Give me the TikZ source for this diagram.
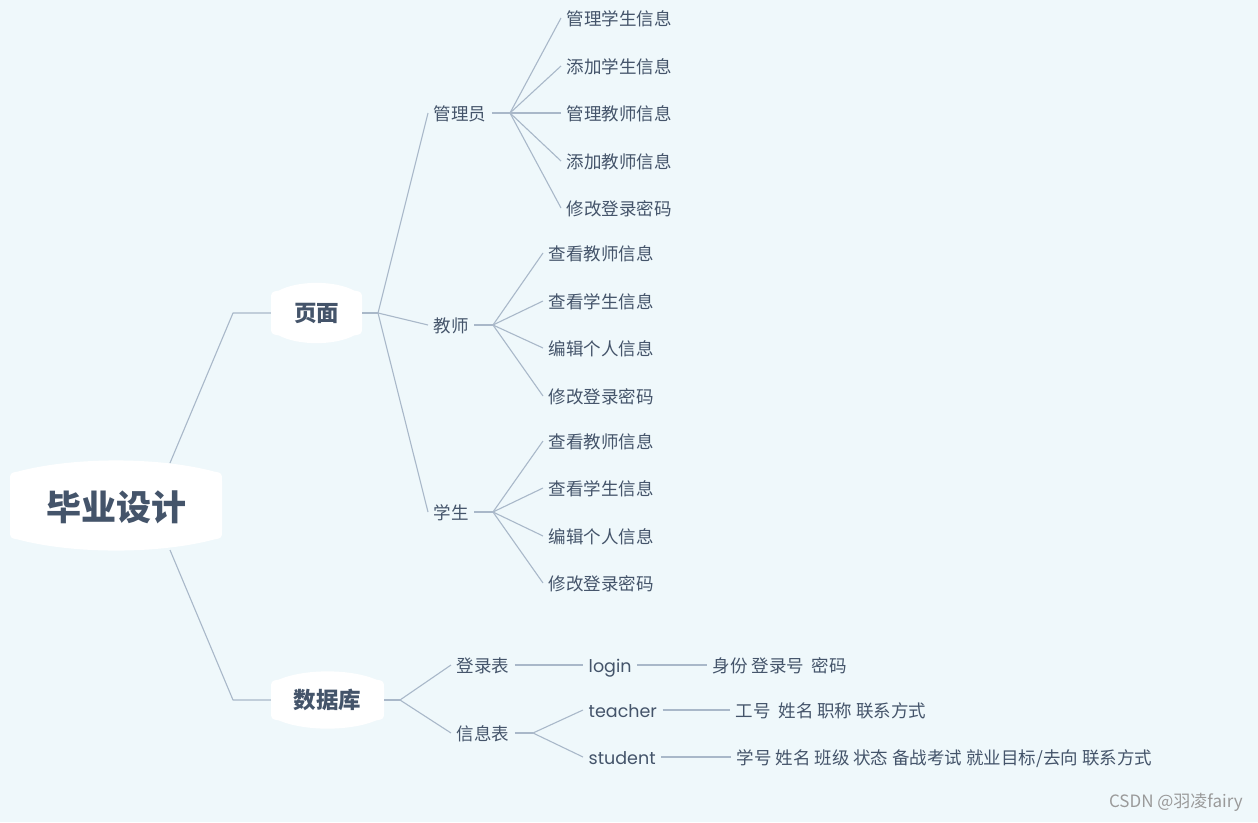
\documentclass[tikz,border=0pt]{standalone}
\usepackage{fontspec}
\setmainfont{Noto Sans CJK SC}
\newfontfamily\latf{Poppins}
\definecolor{bgc}{HTML}{EFF8FB}
\definecolor{txt}{HTML}{44546A}
\definecolor{lnc}{HTML}{A9B8C9}
\definecolor{wmc}{HTML}{9A9A9A}
\newcommand\mmbarrel[5]{%
\fill[white] ({#1},{#2+8}) .. controls ({#1},{#2}) .. ({#1+8},{#2-1.5})
 .. controls ({#1+0.3*(#3-#1)},{#2-#5*1.3}) and ({#3-0.3*(#3-#1)},{#2-#5*1.3}) .. ({#3-8},{#2-1.5})
 .. controls ({#3},{#2}) .. ({#3},{#2+8}) -- ({#3},{#4-8})
 .. controls ({#3},{#4}) .. ({#3-8},{#4+1.5})
 .. controls ({#3-0.3*(#3-#1)},{#4+#5*1.3}) and ({#1+0.3*(#3-#1)},{#4+#5*1.3}) .. ({#1+8},{#4+1.5})
 .. controls ({#1},{#4}) .. ({#1},{#4-8}) -- cycle;}
\tikzset{
 conn/.style={draw=lnc, line width=1.1pt, line join=round},
 lv/.style={anchor=west, inner xsep=5.5pt, inner ysep=0pt, text=txt,
   font=\fontsize{17.5}{20}\selectfont, text height=16.9pt, text depth=1.6pt},
 bignode/.style={inner sep=0pt, text=txt, font=\bfseries\fontsize{22.5}{26}\selectfont},
}
\begin{document}
\begin{tikzpicture}[x=1pt,y=-1pt]
\fill[bgc] (0,0) rectangle (1258,822);
\useasboundingbox (0,0) rectangle (1258,822);
% big nodes
\mmbarrel{10}{473}{222}{538}{12.5}
\mmbarrel{271}{292}{362}{334}{9}
\mmbarrel{271}{681}{384}{719}{9.5}
\node[bignode, font=\bfseries\fontsize{35}{40}\selectfont, minimum width=212pt] (root) at (116,507) {毕业设计};
\node[bignode, minimum width=91pt] (ym) at (316.5,313) {页面};
\node[bignode, minimum width=113pt] (db) at (327.5,700) {数据库};
\coordinate (rootN) at (170,463);
\coordinate (rootS) at (170,550);
\coordinate (k1) at (233,313);
\coordinate (k2) at (233,700);
\coordinate (b1) at (378,313);
\coordinate (b2) at (400,700);
% level 2
\node[lv] (gly) at (428,113) {管理员};
\node[lv] (js) at (428,325) {教师};
\node[lv] (xs) at (428,512) {学生};
\node[lv] (dlb) at (451,665) {登录表};
\node[lv] (xxb) at (451,733) {信息表};
\coordinate (bg) at (510,113);
\coordinate (bj) at (493,325);
\coordinate (bx) at (493,512);
\coordinate (bi) at (533,733);
% leaves admin
\node[lv] (g1) at (561,18) {管理学生信息};
\node[lv] (g2) at (561,66) {添加学生信息};
\node[lv] (g3) at (561,113) {管理教师信息};
\node[lv] (g4) at (561,161) {添加教师信息};
\node[lv] (g5) at (561,208) {修改登录密码};
% leaves teacher
\node[lv] (j1) at (543,253) {查看教师信息};
\node[lv] (j2) at (543,301) {查看学生信息};
\node[lv] (j3) at (543,348) {编辑个人信息};
\node[lv] (j4) at (543,396) {修改登录密码};
% leaves student
\node[lv] (x1) at (543,441) {查看教师信息};
\node[lv] (x2) at (543,488) {查看学生信息};
\node[lv] (x3) at (543,536) {编辑个人信息};
\node[lv] (x4) at (543,583) {修改登录密码};
% database
\node[lv] (login) at (583,665) {\latf login};
\node[lv] (tea) at (583,710) {\latf teacher};
\node[lv] (stu) at (583,757) {\latf student};
\node[lv] (f1) at (707,665) {身份 登录号\ \ 密码};
\node[lv] (f2) at (730,710) {工号\ \ 姓名 职称 联系方式};
\node[lv] (f3) at (731,757) {学号 姓名 班级 状态 备战考试 就业目标/去向 联系方式};
% connectors
\draw[conn] (rootN) -- (k1) -- (ym.west);
\draw[conn] (rootS) -- (k2) -- (db.west);
\draw[conn] (ym.east) -- (b1);
\draw[conn] (b1) -- (gly.west);
\draw[conn] (b1) -- (js.west);
\draw[conn] (b1) -- (xs.west);
\draw[conn] (gly.east) -- (bg);
\foreach \c in {g1,g2,g3,g4,g5} \draw[conn] (bg) -- (\c.west);
\draw[conn] (js.east) -- (bj);
\foreach \c in {j1,j2,j3,j4} \draw[conn] (bj) -- (\c.west);
\draw[conn] (xs.east) -- (bx);
\foreach \c in {x1,x2,x3,x4} \draw[conn] (bx) -- (\c.west);
\draw[conn] (db.east) -- (b2);
\draw[conn] (b2) -- (dlb.west);
\draw[conn] (b2) -- (xxb.west);
\draw[conn] (dlb.east) -- (login.west);
\draw[conn] (login.east) -- (f1.west);
\draw[conn] (xxb.east) -- (bi);
\draw[conn] (bi) -- (tea.west);
\draw[conn] (bi) -- (stu.west);
\draw[conn] (tea.east) -- (f2.west);
\draw[conn] (stu.east) -- (f3.west);
% watermark
\node[anchor=east, inner sep=0pt, text=wmc, font=\fontsize{17}{20}\selectfont] (wm) at (1243,802) {CSDN @羽凌fairy};
\end{tikzpicture}
\end{document}
